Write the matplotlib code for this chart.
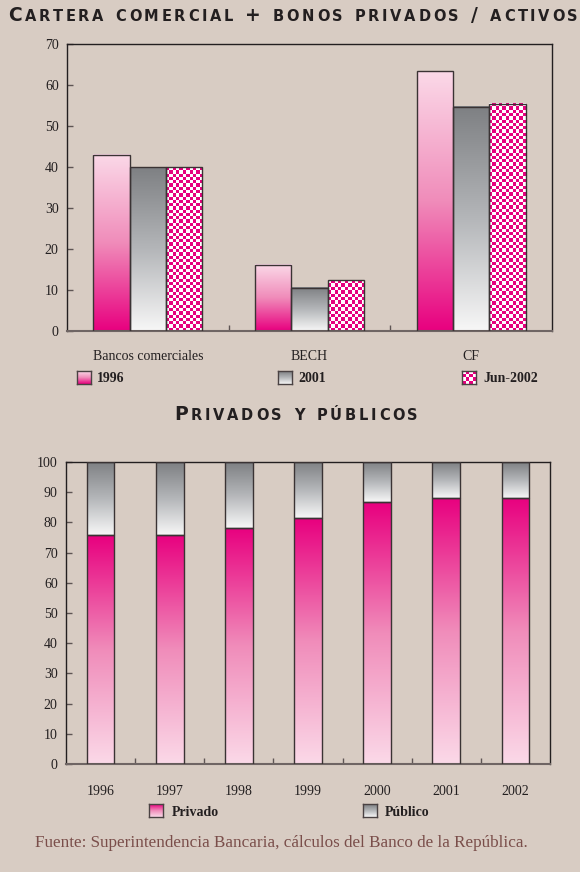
import numpy as np
import matplotlib
matplotlib.use("Agg")
import matplotlib.pyplot as plt
from matplotlib.colors import LinearSegmentedColormap, ListedColormap
from matplotlib.textpath import TextToPath
from matplotlib.font_manager import FontProperties

# datos panel superior
grupos = ["Bancos comerciales", "BECH", "CF"]
v_1996 = [43.0, 16.1, 63.4]
v_2001 = [39.9, 10.5, 54.7]
v_jun2002 = [40.0, 12.4, 55.4]
series_top = ["1996", "2001", "Jun-2002"]

# datos panel inferior
anios = ["1996", "1997", "1998", "1999", "2000", "2001", "2002"]
privado = [75.8, 75.9, 78.2, 81.3, 86.7, 88.2, 88.2]
publico = [24.2, 24.1, 21.8, 18.7, 13.3, 11.8, 11.8]

W, H = 580, 872
BG = "#d8ccc3"
DARK = "#231f20"
EDGE = "#3a3334"
TICK = "#5e5554"
SERIF = "Liberation Serif"

pink_up = LinearSegmentedColormap.from_list("pu", ["#e8007f", "#f08cba", "#fbd9e8"])
pink_down = pink_up.reversed()
gray_up = LinearSegmentedColormap.from_list("gu", ["#f7f7f7", "#b4b6b9", "#7e8083"])
checker_cmap = ListedColormap(["#ffffff", "#e6007e"])

fig = plt.figure(figsize=(W / 100, H / 100), dpi=100)
fig.patch.set_facecolor(BG)


def px_axes(x0, y0, x1, y1):
    return fig.add_axes([x0 / W, 1 - y1 / H, (x1 - x0) / W, (y1 - y0) / H])


def gradient(ax, bar, cmap):
    x, y = bar.get_xy()
    w, h = bar.get_width(), bar.get_height()
    g = np.linspace(0, 1, 256).reshape(-1, 1)
    ax.imshow(g, cmap=cmap, extent=(x, x + w, y, y + h), origin="lower",
              aspect="auto", zorder=2, interpolation="bilinear")


def checker(ax, bar, ppu_x, ppu_y, cell=3.3):
    x, y = bar.get_xy()
    w, h = bar.get_width(), bar.get_height()
    nx = max(1, int(round(w * ppu_x / cell)))
    ny = max(1, int(round(h * ppu_y / cell)))
    arr = np.add.outer(np.arange(ny), np.arange(nx)) % 2
    ax.imshow(arr, cmap=checker_cmap, extent=(x, x + w, y, y + h), origin="lower",
              aspect="auto", zorder=2, interpolation="nearest")


def style_axes(ax):
    ax.set_facecolor(BG)
    for s in ["top", "right", "left"]:
        ax.spines[s].set_color(DARK)
        ax.spines[s].set_linewidth(1.0)
    ax.spines["bottom"].set_color("#6f6564")
    ax.spines["bottom"].set_linewidth(1.5)
    ax.tick_params(axis="y", direction="in", length=4.5, width=1, color=TICK,
                   labelsize=10, labelcolor=DARK, pad=6)
    ax.tick_params(axis="x", which="major", length=0, labelsize=10, labelcolor=DARK)
    ax.tick_params(axis="x", which="minor", direction="in", length=4, width=1, color=TICK)
    for lab in ax.get_yticklabels() + ax.get_xticklabels():
        lab.set_fontfamily(SERIF)


def swatch(x, y, kind):
    sa = px_axes(x, y, x + 14, y + 13)
    if kind == "checker":
        arr = np.add.outer(np.arange(4), np.arange(4)) % 2
        sa.imshow(arr, cmap=checker_cmap, aspect="auto", interpolation="nearest")
    else:
        g = np.linspace(0, 1, 64).reshape(-1, 1)
        sa.imshow(g, cmap=kind, aspect="auto", origin="lower")
    sa.set_xticks([])
    sa.set_yticks([])
    for s in sa.spines.values():
        s.set_color("#4a4243")
        s.set_linewidth(1.0)


def small_caps(text, x0, x1, baseline, big=13.5, small=10.5):
    ttp = TextToPath()
    pieces = []
    for ch in text:
        if ch == " ":
            pieces.append((None, 0))
            continue
        size = big if (ch.isupper() or ch in "+/") else small
        fp = FontProperties(family="DejaVu Sans", weight="bold", size=size)
        w, _, _ = ttp.get_text_width_height_descent(ch.upper(), fp, ismath=False)
        pieces.append((ch.upper(), size, w * 100 / 72))
    gap = small * 0.45 * 100 / 72
    natural = sum(p[2] if p[0] else gap for p in pieces)
    spacing = (x1 - x0 - natural) / (len(pieces) - 1)
    x = x0
    for p in pieces:
        if p[0] is None:
            x += gap + spacing
            continue
        fig.text(x / W, 1 - baseline / H, p[0], fontsize=p[1], fontweight="bold",
                 family="DejaVu Sans", color=DARK, ha="left", va="baseline")
        x += p[2] + spacing


# ---- panel superior ----
ax1 = px_axes(67, 44, 552, 331)
xpos = np.arange(len(grupos))
bw = 0.225
b1 = ax1.bar(xpos - bw, v_1996, bw, facecolor="none", edgecolor=EDGE, lw=1.0, zorder=3)
b2 = ax1.bar(xpos, v_2001, bw, facecolor="none", edgecolor=EDGE, lw=1.0, zorder=3)
b3 = ax1.bar(xpos + bw, v_jun2002, bw, facecolor="none", edgecolor=EDGE, lw=1.0, zorder=3)
ppu_x = 485 / 3
ppu_y = 287 / 70
for r in b1:
    gradient(ax1, r, pink_up)
for r in b2:
    gradient(ax1, r, gray_up)
for r in b3:
    checker(ax1, r, ppu_x, ppu_y)
ax1.set_xlim(-0.5, 2.5)
ax1.set_ylim(0, 70)
ax1.set_yticks(np.arange(0, 71, 10))
ax1.set_xticks(xpos)
ax1.set_xticklabels(grupos)
ax1.set_xticks([0.5, 1.5], minor=True)
style_axes(ax1)
ax1.tick_params(axis="x", which="major", pad=14)

# leyenda superior
leg_top = [(77, 97, pink_down), (278, 298, gray_up.reversed()), (462, 483, "checker")]
for (sx, tx, kind), name in zip(leg_top, series_top):
    swatch(sx, 371, kind if kind == "checker" else kind.reversed())
    fig.text(tx / W, 1 - 379 / H, name, fontsize=10, fontweight="bold",
             family=SERIF, color=DARK, ha="left", va="center")

# ---- panel inferior ----
ax2 = px_axes(66, 462, 550, 764)
xp = np.arange(len(anios))
bw2 = 0.4
bp = ax2.bar(xp, privado, bw2, facecolor="none", edgecolor=EDGE, lw=1.0, zorder=3)
bq = ax2.bar(xp, publico, bw2, bottom=privado, facecolor="none", edgecolor=EDGE, lw=1.0, zorder=3)
for r in bp:
    gradient(ax2, r, pink_down)
for r in bq:
    gradient(ax2, r, gray_up)
ax2.set_xlim(-0.5, len(anios) - 0.5)
ax2.set_ylim(0, 100)
ax2.set_yticks(np.arange(0, 101, 10))
ax2.set_xticks(xp)
ax2.set_xticklabels(anios)
ax2.set_xticks(np.arange(0.5, len(anios) - 1, 1), minor=True)
style_axes(ax2)
ax2.tick_params(axis="x", which="major", pad=15)

# leyenda inferior
for sx, tx, kind, name in [(149, 172, pink_down, "Privado"), (363, 385, gray_up, "Público")]:
    swatch(sx, 804, kind)
    fig.text(tx / W, 1 - 812 / H, name, fontsize=10, fontweight="bold",
             family=SERIF, color=DARK, ha="left", va="center")

# titulos
small_caps("Cartera comercial + bonos privados / activos", 8, 578, 21)
small_caps("Privados y públicos", 174, 418, 420)

fig.text(281 / W, 1 - 843 / H,
         "Fuente: Superintendencia Bancaria, cálculos del Banco de la República.",
         fontsize=12.3, family=SERIF, color="#7a4e4a", ha="center", va="center")

fig.savefig("out.png", dpi=100, facecolor=BG)
